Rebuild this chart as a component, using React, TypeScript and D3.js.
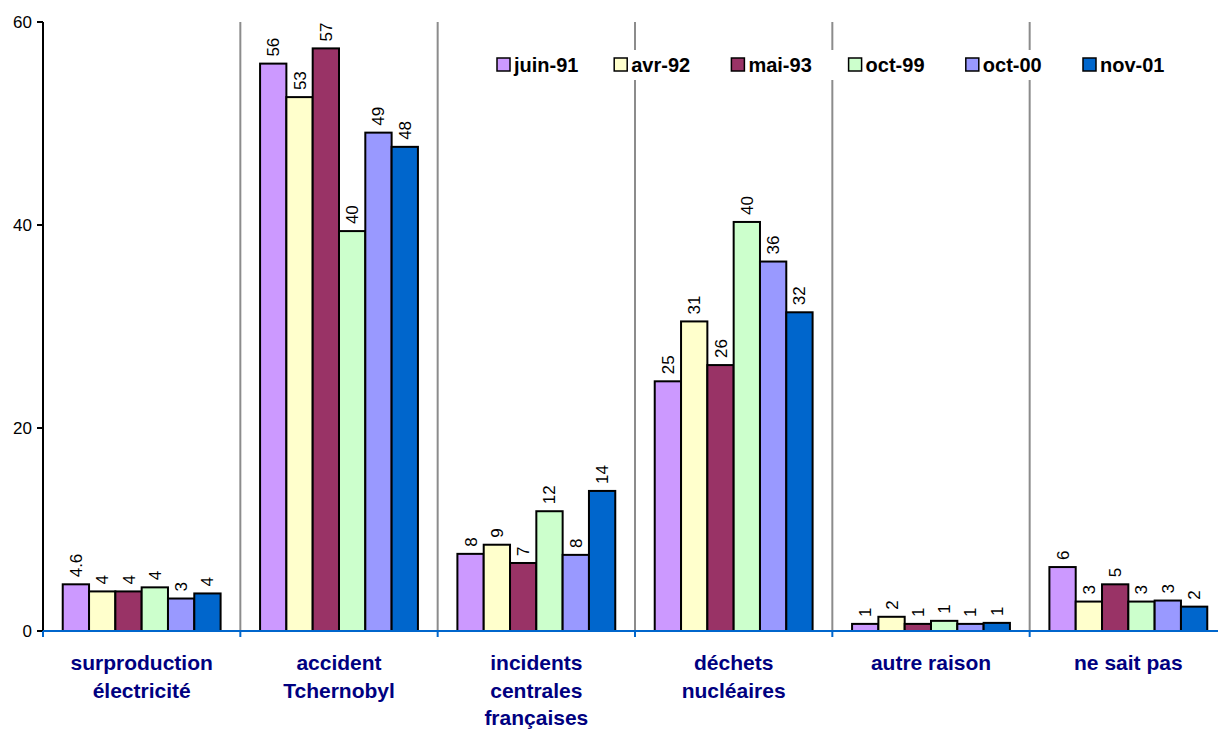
import React from "react";
import * as d3 from "d3";

const categories = [
  ["surproduction", "électricité"],
  ["accident", "Tchernobyl"],
  ["incidents", "centrales", "françaises"],
  ["déchets", "nucléaires"],
  ["autre raison"],
  ["ne sait pas"],
];
const seriesNames = ["juin-91", "avr-92", "mai-93", "oct-99", "oct-00", "nov-01"];
const seriesColors = ["#CC99FF", "#FFFFCC", "#993366", "#CCFFCC", "#9999FF", "#0066CC"];

const juin91 = [4.6, 55.9, 7.6, 24.6, 0.7, 6.3];
const avr92 = [3.9, 52.6, 8.5, 30.5, 1.4, 2.9];
const mai93 = [3.9, 57.4, 6.7, 26.2, 0.7, 4.6];
const oct99 = [4.3, 39.4, 11.8, 40.3, 1.0, 2.9];
const oct00 = [3.2, 49.1, 7.5, 36.4, 0.7, 3.0];
const nov01 = [3.7, 47.7, 13.8, 31.4, 0.8, 2.4];

const labJuin91 = ["4.6", "56", "8", "25", "1", "6"];
const labAvr92 = ["4", "53", "9", "31", "2", "3"];
const labMai93 = ["4", "57", "7", "26", "1", "5"];
const labOct99 = ["4", "40", "12", "40", "1", "3"];
const labOct00 = ["3", "49", "8", "36", "1", "3"];
const labNov01 = ["4", "48", "14", "32", "1", "2"];

const yTicks = [0, 20, 40, 60];

const seriesValues = [juin91, avr92, mai93, oct99, oct00, nov01];
const seriesLabels = [labJuin91, labAvr92, labMai93, labOct99, labOct00, labNov01];

const FONT = "Arial, 'Liberation Sans', sans-serif";

export default function App() {
  const W = 1218, H = 731;
  const left = 43, right = 1227, top = 22, bottom = 631;
  const catKeys = categories.map((_, i) => String(i));
  const x0 = d3.scaleBand<string>().domain(catKeys).range([left, right]).padding(0);
  const x1 = d3.scaleBand<string>().domain(seriesNames).range([0, x0.bandwidth()]).paddingInner(0).paddingOuter(0.75);
  const y = d3.scaleLinear().domain([0, 60]).range([bottom, top]);

  const legendX0 = 497;
  const legendStep = 117.2;

  return (
    <svg width={W} height={H} style={{ position: "absolute", left: 0, top: 0, background: "#fff" }} fontFamily={FONT}>
      <rect x={0} y={0} width={W} height={H} fill="#fff" />
      {/* separators */}
      {catKeys.slice(1).map((k) => (
        <line key={k} x1={x0(k)!} x2={x0(k)!} y1={top} y2={bottom} stroke="#8c8c8c" strokeWidth={2} />
      ))}
      {/* bars */}
      {catKeys.map((k, ci) => (
        <g key={k} transform={`translate(${x0(k)},0)`}>
          {seriesNames.map((s, si) => {
            const v = seriesValues[si][ci];
            const bx = x1(s)!;
            const by = y(v);
            return (
              <g key={s}>
                <rect x={bx} y={by} width={x1.bandwidth()} height={bottom - by} fill={seriesColors[si]} stroke="#000" strokeWidth={2} />
                <text
                  transform={`translate(${bx + x1.bandwidth() / 2 + 6},${by - 7}) rotate(-90)`}
                  fontSize={17}
                  fill="#000"
                >
                  {seriesLabels[si][ci]}
                </text>
              </g>
            );
          })}
        </g>
      ))}
      {/* y axis */}
      <line x1={left} x2={left} y1={top} y2={bottom} stroke="#000" strokeWidth={2} />
      {yTicks.map((t) => (
        <g key={t}>
          <line x1={left - 6} x2={left} y1={y(t)} y2={y(t)} stroke="#000" strokeWidth={2} />
          <text x={left - 11} y={y(t) + 6} textAnchor="end" fontSize={17} fill="#000">{t}</text>
        </g>
      ))}
      {/* x axis */}
      <line x1={left} x2={W} y1={bottom} y2={bottom} stroke="#0066CC" strokeWidth={2} />
      {catKeys.map((k) => (
        <line key={k} x1={x0(k)!} x2={x0(k)!} y1={bottom} y2={bottom + 6} stroke="#0066CC" strokeWidth={2} />
      ))}
      {categories.map((lines, ci) => (
        <text key={ci} textAnchor="middle" fontSize={21} fontWeight="bold" fill="#000080">
          {lines.map((ln, li) => (
            <tspan key={li} x={x0(String(ci))! + x0.bandwidth() / 2} y={670 + li * 27.5}>{ln}</tspan>
          ))}
        </text>
      ))}
      {/* legend */}
      <rect x={488} y={50} width={700} height={30} fill="#fff" />
      {seriesNames.map((s, si) => {
        const lx = legendX0 + si * legendStep;
        return (
          <g key={s}>
            <rect x={lx} y={58} width={13} height={13} fill={seriesColors[si]} stroke="#000" strokeWidth={1.5} />
            <text x={lx + 17} y={72} fontSize={20} fontWeight="bold" fill="#000">{s}</text>
          </g>
        );
      })}
    </svg>
  );
}
